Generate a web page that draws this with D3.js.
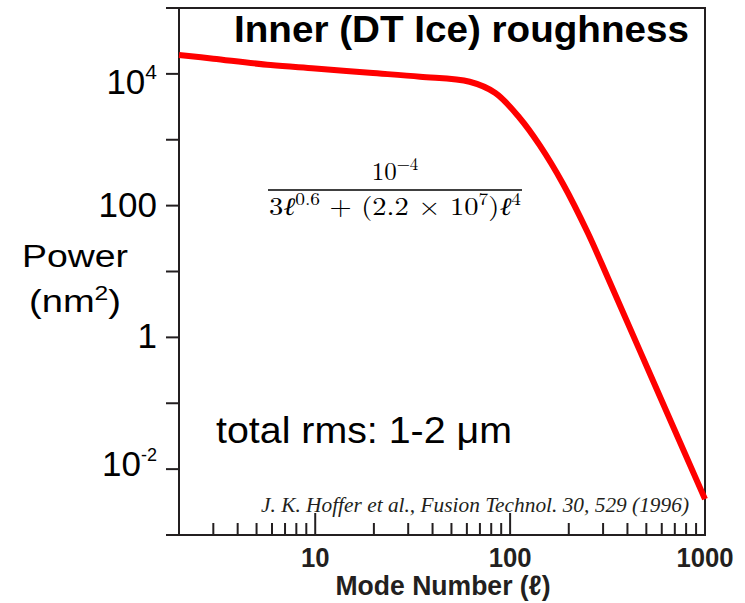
<!DOCTYPE html>
<html>
<head>
<meta charset="utf-8">
<script src="https://cdn.jsdelivr.net/npm/d3@7"></script>
<style>
  body { margin: 0; background: #fff; }
  svg { display: block; }
</style>
</head>
<body>
<svg id="chart"></svg>
<script>
// values
var modeNumbers = [2, 3, 5.9, 10, 19, 34.5, 62, 84, 112, 142, 187, 250, 317, 532, 1000];
var power       = [19400, 17000, 13600, 12100, 10400, 9060, 7600, 5130, 2140, 820, 213, 39, 8.1, 0.246, 0.0035];

var xMajor = [10, 100, 1000];
var xMinor = [3, 4, 5, 6, 7, 8, 9, 20, 30, 40, 50, 60, 70, 80, 90, 200, 300, 400, 500, 600, 700, 800, 900];
var yTicks = [1e-3, 1e-2, 1e-1, 1, 10, 100, 1e3, 1e4, 1e5];
var yLabels = [
  {v: 1e4, base: "10", sup: "4"},
  {v: 100, base: "100", sup: ""},
  {v: 1, base: "1", sup: ""},
  {v: 1e-2, base: "10", sup: "-2"}
];

var width = 745, height = 603;
var pL = 179, pR = 705, pT = 8, pB = 535;
var ink = "#231f20";

var svg = d3.select("#chart")
  .attr("width", width)
  .attr("height", height);

var x = d3.scaleLog().domain([2, 1000]).range([pL, pR]);
var y = d3.scaleLog().domain([1e-3, 1e5]).range([pB, pT]);

// frame
svg.append("rect")
  .attr("x", pL).attr("y", pT)
  .attr("width", pR - pL).attr("height", pB - pT)
  .attr("fill", "none").attr("stroke", ink).attr("stroke-width", 2);

// y ticks (outside, left)
svg.selectAll(".ytick")
  .data(yTicks)
  .enter().append("line")
  .attr("x1", pL - 13).attr("x2", pL)
  .attr("y1", function(d) { return y(d); })
  .attr("y2", function(d) { return y(d); })
  .attr("stroke", ink).attr("stroke-width", 2);

// x ticks (inside, pointing up)
svg.selectAll(".xminor")
  .data(xMinor)
  .enter().append("line")
  .attr("x1", function(d) { return x(d); })
  .attr("x2", function(d) { return x(d); })
  .attr("y1", pB).attr("y2", pB - 12)
  .attr("stroke", ink).attr("stroke-width", 2);

svg.selectAll(".xmajor")
  .data([10, 100])
  .enter().append("line")
  .attr("x1", function(d) { return x(d); })
  .attr("x2", function(d) { return x(d); })
  .attr("y1", pB).attr("y2", pB - 22)
  .attr("stroke", ink).attr("stroke-width", 2);

// x tick labels (narrow bold look)
var narrow = "font-family: 'Liberation Sans Narrow', 'Liberation Sans'; font-weight: bold; font-size: 28px";
svg.selectAll(".xlab")
  .data(xMajor)
  .enter().append("text")
  .attr("x", function(d) { return x(d); })
  .attr("y", pB + 32)
  .attr("text-anchor", "middle")
  .attr("textLength", function(d) { return String(d).length * 14.3; })
  .attr("lengthAdjust", "spacingAndGlyphs")
  .attr("style", narrow)
  .attr("fill", ink)
  .text(function(d) { return d; });

svg.append("text")
  .attr("x", 443).attr("y", 595)
  .attr("text-anchor", "middle")
  .attr("textLength", 215).attr("lengthAdjust", "spacingAndGlyphs")
  .attr("style", narrow)
  .attr("fill", ink)
  .text("Mode Number (\u2113)");

// y tick labels
var ylab = svg.selectAll(".ylab")
  .data(yLabels)
  .enter().append("text")
  .attr("x", 157)
  .attr("y", function(d) { return y(d.v) + (d.sup ? (d.v > 1 ? 20 : 7) : 11); })
  .attr("text-anchor", "end")
  .attr("style", "font-family: 'Liberation Sans', Arial; font-size: 35px")
  .attr("fill", "#000");
ylab.append("tspan").text(function(d) { return d.base; });
ylab.append("tspan")
  .attr("dy", function(d) { return d.sup ? -15 : 0; })
  .attr("font-size", function(d) { return d.v > 1 ? "21px" : "18px"; })
  .text(function(d) { return d.sup; });

// y axis title
svg.append("text")
  .attr("x", 75).attr("y", 267)
  .attr("text-anchor", "middle")
  .attr("textLength", 106).attr("lengthAdjust", "spacingAndGlyphs")
  .attr("style", "font-family: 'Liberation Sans', Arial; font-size: 31px")
  .text("Power");
var unit = svg.append("text")
  .attr("x", 75).attr("y", 312)
  .attr("text-anchor", "middle")
  .attr("textLength", 92).attr("lengthAdjust", "spacingAndGlyphs")
  .attr("style", "font-family: 'Liberation Sans', Arial; font-size: 31px");
unit.append("tspan").text("(nm");
unit.append("tspan").attr("dy", -12).attr("font-size", "20px").text("2");
unit.append("tspan").attr("dy", 12).text(")");

// curve
var line = d3.line()
  .x(function(d) { return x(d[0]); })
  .y(function(d) { return y(d[1]); })
  .curve(d3.curveCatmullRom.alpha(0.5));

svg.append("path")
  .datum(d3.zip(modeNumbers, power))
  .attr("d", line)
  .attr("fill", "none")
  .attr("stroke", "#ff0000")
  .attr("stroke-width", 6);

// title
svg.append("text")
  .attr("x", 689).attr("y", 42)
  .attr("text-anchor", "end")
  .attr("textLength", 455).attr("lengthAdjust", "spacingAndGlyphs")
  .attr("style", "font-family: 'Liberation Sans', Arial; font-weight: bold; font-size: 37px")
  .text("Inner (DT Ice) roughness");

// formula
var serif = "font-family: 'Latin Modern Roman', 'DejaVu Serif', 'Liberation Serif'; font-size: 25px";
var num = svg.append("text")
  .attr("x", 395).attr("y", 180)
  .attr("text-anchor", "middle")
  .attr("style", serif);
num.append("tspan").text("10");
num.append("tspan").attr("dy", -10).attr("font-size", "17px").text("\u22124");

svg.append("line")
  .attr("x1", 268).attr("x2", 522)
  .attr("y1", 190).attr("y2", 190)
  .attr("stroke", "#000").attr("stroke-width", 1.5);

var den = svg.append("text")
  .attr("x", 395).attr("y", 215)
  .attr("text-anchor", "middle")
  .attr("textLength", 252).attr("lengthAdjust", "spacingAndGlyphs")
  .attr("style", serif);
den.append("tspan").text("3");
den.append("tspan").attr("font-style", "italic").text("\u2113");
den.append("tspan").attr("dy", -10).attr("font-size", "17px").text("0.6");
den.append("tspan").attr("dy", 10).text(" + (2.2 \u00d7 10");
den.append("tspan").attr("dy", -10).attr("font-size", "17px").text("7");
den.append("tspan").attr("dy", 10).text(")");
den.append("tspan").attr("font-style", "italic").text("\u2113");
den.append("tspan").attr("dy", -10).attr("font-size", "17px").text("4");

// rms note
svg.append("text")
  .attr("x", 216).attr("y", 443)
  .attr("textLength", 296).attr("lengthAdjust", "spacingAndGlyphs")
  .attr("style", "font-family: 'Liberation Sans', Arial; font-size: 37px")
  .text("total rms: 1-2 \u03bcm");

// citation
svg.append("text")
  .attr("x", 689).attr("y", 512)
  .attr("text-anchor", "end")
  .attr("textLength", 428).attr("lengthAdjust", "spacingAndGlyphs")
  .attr("style", "font-family: 'Liberation Serif', 'Times New Roman'; font-style: italic; font-size: 20px")
  .attr("fill", ink)
  .text("J. K. Hoffer et al., Fusion Technol. 30, 529 (1996)");
</script>
</body>
</html>
